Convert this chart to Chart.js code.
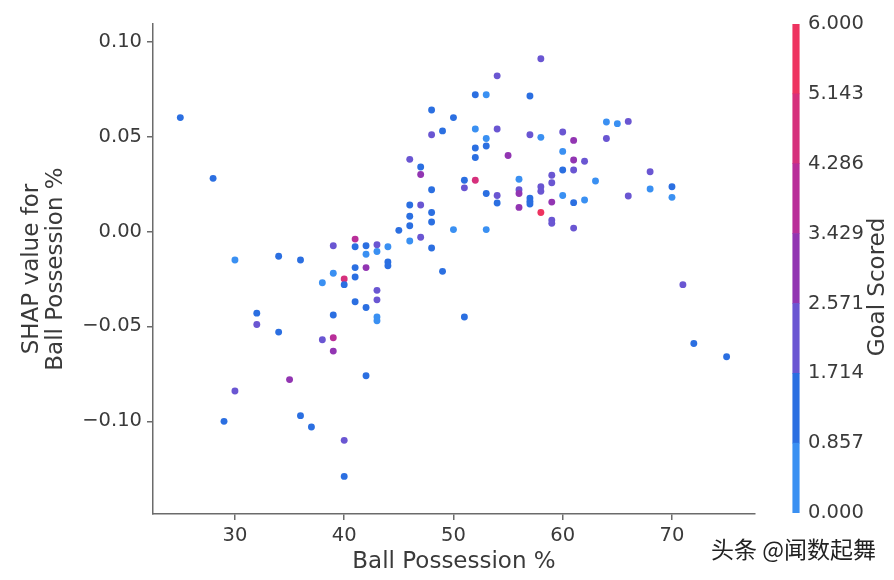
<!DOCTYPE html>
<html>
<head>
<meta charset="utf-8">
<script src="https://cdn.jsdelivr.net/npm/chart.js@4.4.0/dist/chart.umd.min.js"></script>
<style>
  body { margin: 0; background: #fff; }
  #wrap { position: relative; width: 894px; height: 580px; }
  #chart { position: absolute; left: 0; top: 0; }
  #cbar { position: absolute; left: 786px; top: 0; }
  #mark { position: absolute; left: 711px; top: 537px; font: 23px/1 "Noto Sans CJK SC"; color: #222; white-space: nowrap; }
</style>
</head>
<body>
<div id="wrap">
  <canvas id="chart" width="894" height="580"></canvas>
  <canvas id="cbar" width="108" height="580"></canvas>
  <div id="mark">头条 @闻数起舞</div>
</div>
<script>
// one entry per match: ball possession %, SHAP value, goals scored
const possession = [
  25, 28, 29, 30, 30, 32, 32, 34, 34, 35,
  36, 36, 37, 38, 38, 39, 39, 39, 39, 39,
  40, 40, 40, 40, 41, 41, 41, 41, 41, 42,
  42, 42, 42, 42, 43, 43, 43, 43, 43, 43,
  44, 44, 44, 45, 46, 46, 46, 46, 46, 47,
  47, 47, 47, 48, 48, 48, 48, 48, 48, 49,
  49, 50, 50, 51, 51, 51, 52, 52, 52, 52,
  52, 53, 53, 53, 53, 53, 54, 54, 54, 54,
  55, 56, 56, 56, 56, 57, 57, 57, 57, 57,
  58, 58, 58, 58, 58, 59, 59, 59, 59, 59,
  60, 60, 60, 60, 61, 61, 61, 61, 61, 62,
  62, 63, 64, 64, 65, 66, 66, 68, 68, 70,
  70, 71, 72, 75
];
const shapValues = [
  0.060, 0.028, -0.100, -0.015, -0.084, -0.043, -0.049, -0.013, -0.053, -0.078,
  -0.015, -0.097, -0.103, -0.027, -0.057, -0.0075, -0.022, -0.044, -0.056, -0.063,
  -0.025, -0.028, -0.110, -0.129, -0.004, -0.008, -0.019, -0.024, -0.037, -0.0075,
  -0.012, -0.019, -0.040, -0.076, -0.007, -0.0105, -0.031, -0.036, -0.045, -0.047,
  -0.008, -0.016, -0.018, 0.0006, 0.038, 0.014, 0.008, 0.003, -0.005, 0.034,
  0.030, 0.014, -0.003, 0.064, 0.051, 0.022, 0.010, 0.005, -0.0087, 0.053,
  -0.021, 0.060, 0.001, 0.027, 0.023, -0.045, 0.072, 0.054, 0.044, 0.039,
  0.027, 0.072, 0.049, 0.045, 0.020, 0.001, 0.082, 0.054, 0.019, 0.015,
  0.040, 0.0275, 0.022, 0.020, 0.0127, 0.0714, 0.051, 0.0176, 0.0159, 0.0145,
  0.091, 0.0496, 0.0236, 0.0212, 0.0100, 0.0296, 0.0257, 0.0155, 0.006, 0.0043,
  0.0524, 0.0422, 0.0324, 0.019, 0.048, 0.0377, 0.0324, 0.0152, 0.0018, 0.037,
  0.0166, 0.0266, 0.0577, 0.049, 0.0568, 0.058, 0.0187, 0.0315, 0.0224, 0.0236,
  0.018, -0.028, -0.059, -0.066
];
const goalsScored = [
  1, 1, 1, 0, 2, 1, 2, 1, 1, 3,
  1, 1, 1, 0, 2, 2, 0, 1, 4, 3,
  5, 1, 2, 1, 4, 1, 1, 1, 1, 1,
  0, 3, 1, 1, 2, 0, 2, 2, 0, 0,
  0, 1, 1, 1, 2, 1, 1, 1, 0, 1,
  3, 2, 2, 1, 2, 1, 1, 1, 1, 1,
  1, 1, 0, 1, 2, 1, 1, 0, 1, 1,
  5, 0, 0, 1, 1, 0, 2, 2, 2, 1,
  3, 0, 2, 3, 3, 1, 2, 1, 1, 1,
  2, 0, 2, 2, 6, 2, 2, 3, 2, 2,
  2, 0, 1, 0, 3, 3, 2, 1, 2, 2,
  0, 0, 0, 2, 0, 2, 2, 2, 0, 1,
  0, 2, 1, 1
];

const xTicks = [30, 40, 50, 60, 70];
const yTicks = [-0.10, -0.05, 0.00, 0.05, 0.10];
const cbTicks = [0, 0.857, 1.714, 2.571, 3.429, 4.286, 5.143, 6.000];
const goalColors = ['#3a90f2', '#2b6fe1', '#6a56d2', '#9235b2', '#b92e99', '#d6307c', '#ee3360'];

const axisColor = '#6b6b6b';
const textColor = '#3a3a3a';
const tickFont = { family: 'DejaVu Sans', size: 19.5 };
const labelFont = { family: 'DejaVu Sans', size: 23, lineHeight: 1.05 };

const points = possession.map((x, i) => ({ x: x, y: shapValues[i] }));

new Chart(document.getElementById('chart'), {
  type: 'scatter',
  data: {
    datasets: [{
      data: points,
      pointBackgroundColor: goalsScored.map(g => goalColors[g]),
      pointBorderWidth: 0,
      pointRadius: 3.45
    }]
  },
  options: {
    responsive: false,
    animation: false,
    layout: { padding: { left: 0, top: 24, right: 139, bottom: 0 } },
    plugins: { legend: { display: false }, tooltip: { enabled: false } },
    scales: {
      x: {
        type: 'linear',
        min: 22.5,
        max: 77.6,
        afterBuildTicks: s => { s.ticks = xTicks.map(v => ({ value: v })); },
        afterFit: s => { s.height = 66; },
        grid: { drawOnChartArea: false, tickLength: 6, color: axisColor, lineWidth: 1.5 },
        border: { color: axisColor, width: 1.5 },
        ticks: { padding: 4, color: textColor, font: tickFont, callback: v => String(v) },
        title: { display: true, text: 'Ball Possession %', color: textColor, font: labelFont, padding: { top: 0, bottom: 6 } }
      },
      y: {
        type: 'linear',
        min: -0.1488,
        max: 0.1093,
        afterBuildTicks: s => { s.ticks = yTicks.map(v => ({ value: v })); },
        afterFit: s => { s.width = 153; },
        grid: { drawOnChartArea: false, tickLength: 6, color: axisColor, lineWidth: 1.5 },
        border: { color: axisColor, width: 1.5 },
        ticks: {
          padding: 5, color: textColor, font: tickFont,
          callback: v => (v < 0 ? '\u2212' : '') + Math.abs(v).toFixed(2)
        },
        title: {
          display: true, text: ['SHAP value for', 'Ball Possession %'],
          color: textColor, font: labelFont, padding: { top: 20, bottom: 0 }
        }
      }
    }
  }
});

// colorbar label reads bottom-to-top like matplotlib
const cbTitle = {
  id: 'cbTitle',
  afterDraw(chart) {
    const ctx = chart.ctx;
    ctx.save();
    ctx.translate(92, 287);
    ctx.rotate(-Math.PI / 2);
    ctx.font = '23px "DejaVu Sans"';
    ctx.fillStyle = textColor;
    ctx.textAlign = 'center';
    ctx.textBaseline = 'middle';
    ctx.fillText('Goal Scored', 0, 0);
    ctx.restore();
  }
};

new Chart(document.getElementById('cbar'), {
  type: 'bar',
  data: {
    labels: [''],
    datasets: goalColors.map((c, i) => ({
      data: [[cbTicks[i], cbTicks[i + 1]]],
      backgroundColor: c,
      barThickness: 6.5,
      grouped: false
    }))
  },
  options: {
    responsive: false,
    animation: false,
    layout: { padding: { left: 0, top: 24, right: 0, bottom: 67 } },
    plugins: { legend: { display: false }, tooltip: { enabled: false } },
    scales: {
      x: { display: false },
      y: {
        position: 'right',
        min: 0,
        max: 6,
        afterBuildTicks: s => { s.ticks = cbTicks.map(v => ({ value: v })); },
        afterFit: s => { s.width = 88; },
        grid: { display: false, drawTicks: false },
        border: { display: false },
        ticks: { padding: 2, color: textColor, font: tickFont, callback: v => v.toFixed(3) }
      }
    }
  },
  plugins: [cbTitle]
});
</script>
</body>
</html>
